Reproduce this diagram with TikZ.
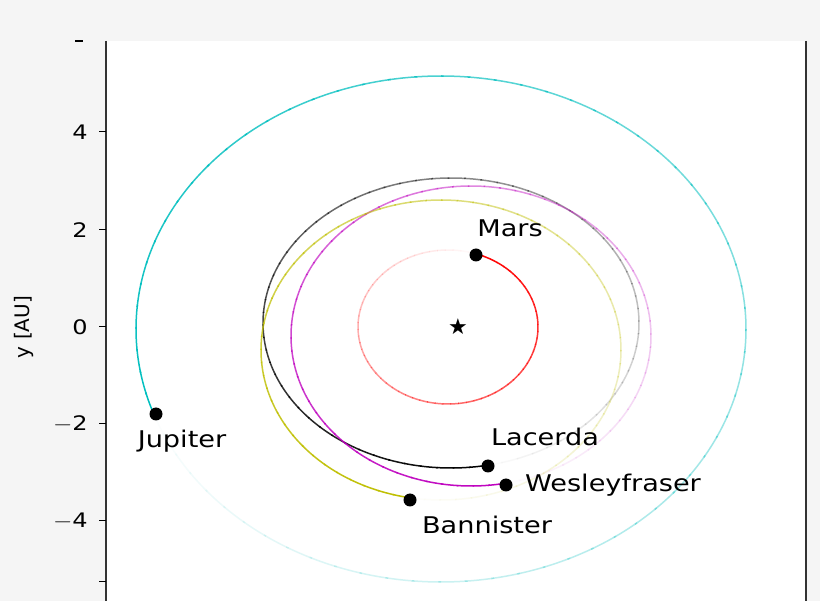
\documentclass[tikz,border=0pt]{standalone}
\usepackage{fontspec}
\setmainfont{DejaVu Sans}
\begin{document}
\begin{tikzpicture}[x=1pt,y=-1pt,
  lbl/.style={font=\fontsize{23}{23}\selectfont, text=black, inner sep=0pt, xscale=1.18},
  tk/.style={font=\fontsize{20}{20}\selectfont, anchor=east, inner sep=0pt, xscale=1.2},
  planet/.style={circle, fill=black, minimum size=13pt, inner sep=0pt}]
\useasboundingbox (0,0) rectangle (820,601);
\fill[black!4] (0,0) rectangle (820,601);
\fill[white] (106,41) rectangle (806,601);
% orbits: cx cy rx ry t0 colour
\foreach \cx/\cy/\rx/\ry/\t/\col in {
  448/327/90/77/288/red,
  441/329/305/253/160/{rgb,255:red,0;green,191;blue,191},
  451/323/188/145/79/black,
  471/336/180/150/79/{rgb,255:red,191;green,0;blue,191},
  441/350/180/150/100/{rgb,255:red,191;green,191;blue,0}}{
  \foreach \i in {0,...,71}{
    \pgfmathsetmacro\a{\t+5*\i}
    \pgfmathsetmacro\b{\a+5.5}
    \pgfmathsetmacro\op{1-\i/72}
    \draw[color=\col, draw opacity=\op, line width=1.5pt]
      plot[domain=\a:\b, samples=5, smooth] ({\cx+\rx*cos(\x)},{\cy+\ry*sin(\x)});
  }
}
\draw[line width=1.4pt, black!80] (106,41) -- (106,601);
\draw[line width=1.4pt, black!80] (806,41) -- (806,601);
\foreach \v/\yy in {4/132,2/230,0/327,{$-$2}/424,{$-$4}/521}{
  \draw[line width=1pt] (99,\yy) -- (106,\yy);
  \node[tk] at (88,\yy) {\v};
}
\draw[line width=1pt] (99,582) -- (106,582);
\draw[line width=1.5pt] (75,41) -- (83,41);
\node[font=\fontsize{20}{20}\selectfont, rotate=90] (ylab) at (24,327) {y [AU]};
\node (sun) at (458,327) {\fontsize{22}{22}\selectfont ★};
\node[planet] (mars) at (476,255) {};
\node[planet] (jup) at (156,414) {};
\node[planet] (lac) at (488,466) {};
\node[planet] (wes) at (506,485) {};
\node[planet] (ban) at (410,500) {};
\node[lbl] (lmars) at (510,228) {Mars};
\node[lbl] (ljup) at (182,441) {Jupiter};
\node[lbl] (llac) at (545,437) {Lacerda};
\node[lbl] (lwes) at (613,485) {Wesleyfraser};
\node[lbl] (lban) at (487,525) {Bannister};
\end{tikzpicture}
\end{document}
